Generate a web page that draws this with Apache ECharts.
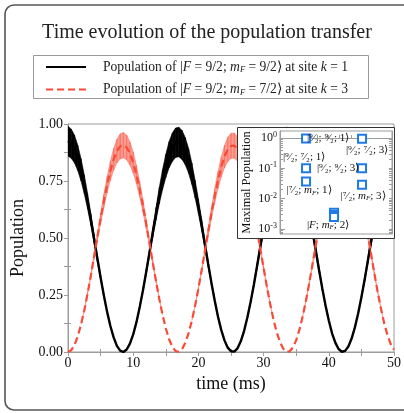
<!DOCTYPE html>
<html><head><meta charset="utf-8">
<script src="https://cdn.jsdelivr.net/npm/echarts@6/dist/echarts.min.js"></script>
<style>html,body{margin:0;padding:0;background:#fff}#c{width:404px;height:413px}</style>
</head><body><div id="c"></div>
<script>
// ---------- data ----------
const timeMs = [0,0.5,1,1.5,2,2.5,3,3.5,4,4.5,5,5.5,6,6.5,7,7.5,8,8.5,9,9.5,
  10,10.5,11,11.5,12,12.5,13,13.5,14,14.5,15,15.5,16,16.5,17,17.5,18,18.5,19,19.5,
  20,20.5,21,21.5,22,22.5,23,23.5,24,24.5,25,25.5,26,26.5,27,27.5,28,28.5,29,29.5,
  30,30.5,31,31.5,32,32.5,33,33.5,34,34.5,35,35.5,36,36.5,37,37.5,38,38.5,39,39.5,
  40,40.5,41,41.5,42,42.5,43,43.5,44,44.5,45,45.5,46,46.5,47,47.5,48,48.5,49,49.5,50];

// population of |F=9/2; mF=9/2> at site k=1 (centre of the noisy trace)
const blackPop = [.925,.914,.890,.851,.799,.735,.662,.582,.497,.411,
  .327,.248,.176,.114,.064,.027,.006,0,.011,.037,
  .077,.131,.197,.271,.352,.437,.523,.606,.685,.756,
  .816,.865,.898,.918,.921,.908,.880,.838,.782,.714,
  .639,.557,.472,.386,.303,.226,.156,.097,.051,.019,
  .003,.002,.016,.047,.092,.150,.218,.294,.377,.462,
  .548,.630,.706,.775,.832,.876,.906,.921,.919,.901,
  .869,.822,.762,.693,.615,.532,.446,.361,.279,.204,
  .138,.082,.041,.013,.001,.005,.024,.059,.108,.169,
  .240,.318,.402,.488,.574,.654,.728,.794,.846,.887,.912];
// vertical spread of the noise around that trace
const blackNoise = [.131,.128,.122,.111,.098,.083,.067,.052,.038,.026,
  .016,.009,0,0,0,0,0,0,0,0,
  0,0,.006,.011,.019,.029,.042,.056,.072,.088,
  .102,.115,.124,.129,.130,.127,.119,.108,.094,.078,
  .063,.048,.034,.023,.014,.008,0,0,0,0,
  0,0,0,0,0,0,.007,.013,.022,.033,
  .046,.061,.077,.092,.106,.118,.126,.130,.130,.125,
  .116,.104,.089,.074,.058,.043,.031,.020,.012,.006,
  0,0,0,0,0,0,0,0,0,0,
  .009,.016,.025,.037,.051,.066,.081,.097,.110,.121,.128];

// population of |F=9/2; mF=7/2> at site k=3
const redPop = [0,.008,.031,.069,.121,.183,.256,.334,.418,.503,
  .585,.663,.734,.795,.845,.881,.902,.907,.897,.871,
  .831,.778,.713,.640,.561,.477,.392,.311,.233,.163,
  .104,.056,.023,.004,.001,.013,.041,.083,.138,.204,
  .278,.359,.443,.527,.609,.685,.753,.811,.857,.888,
  .904,.905,.891,.861,.817,.760,.693,.618,.536,.452,
  .368,.287,.212,.144,.088,.045,.015,.001,.003,.020,
  .052,.098,.157,.225,.302,.384,.468,.552,.633,.707,
  .771,.827,.867,.895,.906,.903,.884,.849,.801,.741,
  .671,.594,.511,.427,.342,.263,.191,.125,.074,.034,.010];
const redNoise = [0,0,0,0,0,.005,.009,.015,.024,.034,
  .046,.060,.073,.086,.097,.105,.110,.112,.109,.103,
  .094,.082,.069,.056,.043,.031,.021,.013,.007,0,
  0,0,0,0,0,0,0,0,0,.006,
  .010,.017,.027,.038,.050,.064,.077,.089,.100,.107,
  .111,.111,.108,.101,.091,.078,.065,.052,.039,.028,
  .018,.011,.006,0,0,0,0,0,0,0,
  0,0,0,.007,.012,.020,.030,.041,.054,.068,
  .081,.093,.102,.109,.111,.111,.106,.098,.087,.075,
  .061,.048,.035,.025,.016,.009,.005,0,0,0,0];

// inset: maximal population per state
const insetSites  = [1, 1, 1, 3, 3, 3, 2, 2, 2];
const insetValues = [0.97, 0.10, 0.037, 0.95, 0.10, 0.029, 0.0034, 0.0029, 0.0025];
const insetLabels = ['|⁹⁄₂; ⁹⁄₂; 1⟩', '|⁹⁄₂; ⁷⁄₂; 1⟩', '|⁷⁄₂; {i|m}{s|F}; 1⟩',
  '|⁹⁄₂; ⁷⁄₂; 3⟩', '|⁹⁄₂; ⁹⁄₂; 3⟩', '|⁷⁄₂; {i|m}{s|F}; 3⟩', '', '|{i|F}; {i|m}{s|F}; 2⟩', ''];
const insetDecades = [-3, -2, -1, 0];

// ---------- styling / layout ----------
const insetLabelOffsets = [[22,0],[-2,-11],[3,9],[5,11],[-24,0],[1,11],[0,0],[-6,10],[0,0]];
const SERIF = 'Liberation Serif';
const GRAY = '#9c9c9c';
const BLUE = '#1f7ae6';
const RED = '#f84a36';

const pairs = ys => timeMs.map((t, i) => [t, ys[i]]);
// quads of the noise envelope between consecutive samples
const bandSegments = (ys, ws) => {
  const out = [];
  for (let i = 0; i < timeMs.length - 1; i++) {
    if (ws[i] === 0 && ws[i + 1] === 0) continue;
    out.push([timeMs[i], ys[i] - ws[i] / 2, ys[i] + ws[i] / 2,
              timeMs[i + 1], ys[i + 1] - ws[i + 1] / 2, ys[i + 1] + ws[i + 1] / 2]);
  }
  return out;
};
const bandRender = color => (params, api) => {
  const a = api.coord([api.value(0), api.value(1)]);
  const b = api.coord([api.value(0), api.value(2)]);
  const c = api.coord([api.value(3), api.value(5)]);
  const d = api.coord([api.value(3), api.value(4)]);
  return {type: 'polygon', shape: {points: [a, b, c, d]},
    style: {fill: color, stroke: color, lineWidth: 0.6}};
};
const minorLog = [];
for (let n = -4; n <= 0; n++) for (let k = 2; k <= 9; k++) {
  const v = n + Math.log10(k);
  if (v > -3.167 && v < 0.233) minorLog.push(v);
}

const richTick = {
  b: {fontFamily: SERIF, fontSize: 12, color: '#111'},
  s: {fontFamily: SERIF, fontSize: 8, color: '#111', verticalAlign: 'top', padding: [0,0,6,0]}
};
const richMath = {
  i: {fontFamily: SERIF, fontStyle: 'italic', fontSize: 11, color: '#111'},
  s: {fontFamily: SERIF, fontStyle: 'italic', fontSize: 7, color: '#111', padding: [5,0,0,0]}
};

const chart = echarts.init(document.getElementById('c'));
const option = {
  animation: false,
  backgroundColor: '#fff',
  graphic: [
    {type: 'rect', z: 0, shape: {x: 5, y: 5, width: 410, height: 405, r: 9},
      style: {fill: 'none', stroke: '#555', lineWidth: 1.6}},
    {type: 'text', z: 5, x: 207, y: 33,
      style: {text: 'Time evolution of the population transfer', font: '20px "Liberation Serif"',
        fill: '#222', textAlign: 'center', textVerticalAlign: 'middle'}},
    {type: 'rect', z: 1, shape: {x: 33.5, y: 55.5, width: 335, height: 43},
      style: {fill: '#fff', stroke: '#999', lineWidth: 1}},
    {type: 'rect', z: 100, shape: {x: 237.5, y: 127.5, width: 157, height: 111},
      style: {fill: '#fff', stroke: '#333', lineWidth: 1}}
  ],
  legend: {
    orient: 'vertical', left: 45, top: 60, padding: 0,
    itemWidth: 40, itemHeight: 14, itemGap: 8,
    itemStyle: {color: 'rgba(0,0,0,0)', borderColor: 'rgba(0,0,0,0)', borderWidth: 0, opacity: 0},
    data: ['k1', 'k3'],
    formatter: n => n === 'k1'
      ? 'Population of |{i|F} = 9/2; {i|m}{s|F} = 9/2⟩ at site {i|k} = 1'
      : 'Population of |{i|F} = 9/2; {i|m}{s|F} = 7/2⟩ at site {i|k} = 3',
    textStyle: {fontFamily: SERIF, fontSize: 13.6, color: '#222', padding: [0,0,0,12],
      rich: {
        i: {fontFamily: SERIF, fontStyle: 'italic', fontSize: 13.6, color: '#222'},
        s: {fontFamily: SERIF, fontStyle: 'italic', fontSize: 8.5, color: '#222', padding: [6,0,0,0]}
      }}
  },
  grid: [
    {left: 68, right: 10, top: 124, bottom: 61, show: true, borderColor: GRAY, borderWidth: 1},
    {left: 280, right: 12, top: 131, bottom: 179, show: true, borderColor: GRAY, borderWidth: 1,
      backgroundColor: '#fff', z: 101}
  ],
  xAxis: [
    {gridIndex: 0, type: 'value', min: 0, max: 50, interval: 10, position: 'bottom',
      axisLine: {lineStyle: {color: GRAY}}, splitLine: {show: false},
      axisTick: {inside: false, length: 4, lineStyle: {color: GRAY}},
      axisLabel: {fontFamily: SERIF, fontSize: 14, color: '#111', margin: 4},
      name: 'time (ms)', nameLocation: 'middle', nameGap: 19,
      nameTextStyle: {fontFamily: SERIF, fontSize: 18, color: '#111'}},
    {gridIndex: 0, type: 'value', min: 0, max: 50, position: 'bottom',
      axisLine: {show: false}, splitLine: {show: false}, axisLabel: {show: false},
      axisTick: {inside: true, length: 3, lineStyle: {color: GRAY}, customValues: [5,15,25,35,45]}},
    {gridIndex: 0, type: 'value', min: 0, max: 50, interval: 5, position: 'top',
      axisLine: {lineStyle: {color: GRAY}}, splitLine: {show: false}, axisLabel: {show: false},
      axisTick: {inside: true, length: 4, lineStyle: {color: GRAY}}},
    {gridIndex: 1, type: 'value', min: 0.07, max: 4.07, position: 'bottom', z: 102,
      axisLine: {lineStyle: {color: GRAY}}, splitLine: {show: false}, axisLabel: {show: false},
      axisTick: {inside: true, length: 3, lineStyle: {color: GRAY}, customValues: [1,1.4,1.8,2.2,2.6,3]}}
  ],
  yAxis: [
    {gridIndex: 0, type: 'value', min: 0, max: 1, interval: 0.25, position: 'left',
      axisLine: {show: true, lineStyle: {color: GRAY}}, splitLine: {show: false},
      axisTick: {show: true, inside: false, length: 4, lineStyle: {color: GRAY}},
      axisLabel: {fontFamily: SERIF, fontSize: 14, color: '#111', margin: 5, formatter: v => v.toFixed(2)},
      name: 'Population', nameLocation: 'middle', nameGap: 34,
      nameTextStyle: {fontFamily: SERIF, fontSize: 18, color: '#111'}},
    {gridIndex: 0, type: 'value', min: 0, max: 1, position: 'left',
      axisLine: {show: false}, splitLine: {show: false}, axisLabel: {show: false},
      axisTick: {show: true, inside: true, length: 3, lineStyle: {color: GRAY}, customValues: [0.125,0.375,0.625,0.875]}},
    {gridIndex: 0, type: 'value', min: 0, max: 1, interval: 0.125, position: 'right',
      axisLine: {show: true, lineStyle: {color: GRAY}}, splitLine: {show: false}, axisLabel: {show: false},
      axisTick: {show: true, inside: true, length: 4, lineStyle: {color: GRAY}}},
    {gridIndex: 1, type: 'value', min: -3.167, max: 0.233, position: 'left', z: 102,
      axisLine: {show: true, lineStyle: {color: GRAY}}, splitLine: {show: false},
      axisTick: {show: true, inside: true, length: 5, lineStyle: {color: GRAY}, customValues: insetDecades},
      axisLabel: {customValues: insetDecades, margin: 3,
        formatter: v => '{b|10}{s|' + Math.round(v) + '}', rich: richTick},
      name: 'Maximal Population', nameLocation: 'middle', nameGap: 27,
      nameTextStyle: {fontFamily: SERIF, fontSize: 12.5, color: '#111'}},
    {gridIndex: 1, type: 'value', min: -3.167, max: 0.233, position: 'left', z: 102,
      axisLine: {show: false}, splitLine: {show: false}, axisLabel: {show: false},
      axisTick: {show: true, inside: true, length: 3, lineStyle: {color: GRAY}, customValues: minorLog}},
    {gridIndex: 1, type: 'value', min: -3.167, max: 0.233, position: 'right', z: 102,
      axisLine: {show: true, lineStyle: {color: GRAY}}, splitLine: {show: false}, axisLabel: {show: false},
      axisTick: {show: true, inside: true, length: 3, lineStyle: {color: GRAY}, customValues: insetDecades.concat(minorLog)}}
  ],
  series: [
    {name: 'bBand', type: 'custom', xAxisIndex: 0, yAxisIndex: 0, z: 2, silent: true, clip: true,
      data: bandSegments(blackPop, blackNoise), renderItem: bandRender('#000'),
      encode: {x: [0, 3], y: [1, 2, 4, 5]}},
    {name: 'k1', type: 'line', data: pairs(blackPop), symbol: 'none', z: 3,
      lineStyle: {color: '#000', width: 2.4}, itemStyle: {color: '#000'}},
    {name: 'rBand', type: 'custom', xAxisIndex: 0, yAxisIndex: 0, z: 4, silent: true, clip: true,
      data: bandSegments(redPop, redNoise), renderItem: bandRender('rgba(248,74,54,0.55)'),
      encode: {x: [0, 3], y: [1, 2, 4, 5]}},
    {name: 'k3', type: 'line', data: pairs(redPop), symbol: 'none', z: 5,
      lineStyle: {color: RED, width: 2.2, type: [7, 4]}, itemStyle: {color: RED}},
    {name: 'inset', type: 'scatter', xAxisIndex: 3, yAxisIndex: 3, z: 110,
      symbol: 'rect', symbolSize: 8,
      itemStyle: {color: '#fff', borderColor: BLUE, borderWidth: 2, opacity: 1},
      data: insetSites.map((s, i) => ({
        value: [s, Math.log10(insetValues[i])],
        label: {show: insetLabels[i] !== '', formatter: insetLabels[i], position: 'inside',
          offset: insetLabelOffsets[i], fontFamily: SERIF, fontSize: 11, color: '#111', rich: richMath}
      }))}
  ]
};
chart.setOption(option);
</script>
</body></html>
